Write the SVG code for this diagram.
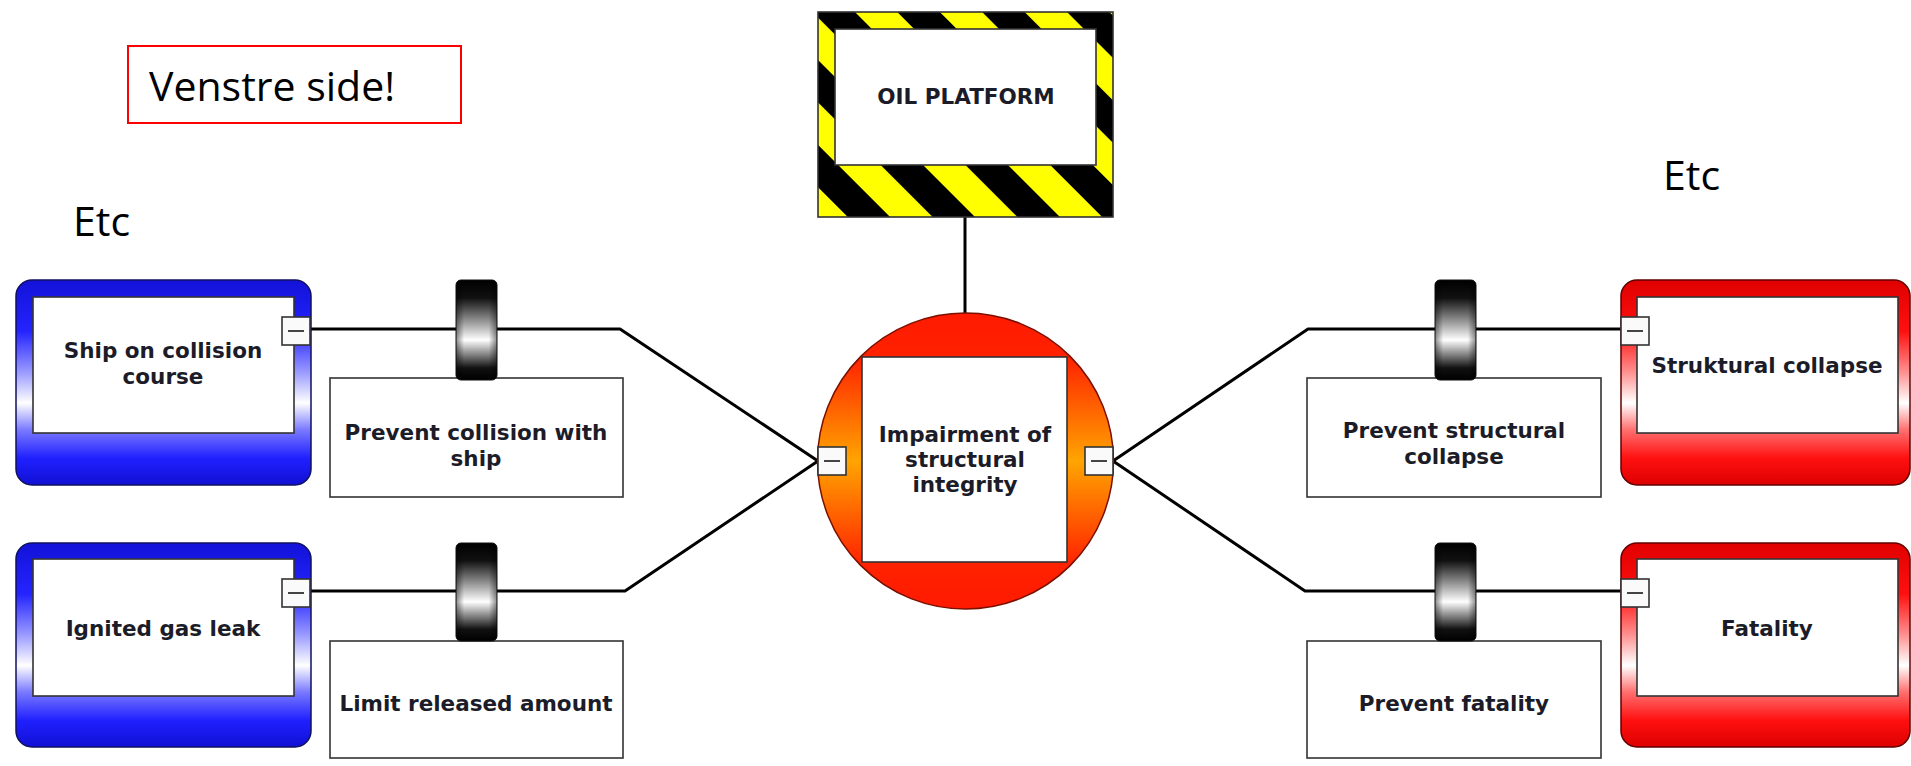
<svg xmlns="http://www.w3.org/2000/svg" width="1911" height="766" viewBox="0 0 1911 766">
<defs>
<style>
.t{font-family:"DejaVu Sans",Verdana,sans-serif;font-weight:bold;font-size:21.5px;fill:#1c1c28;text-anchor:middle}
.c{font-family:"Open Sans","Noto Sans",sans-serif;font-size:41px;fill:#000}
.box{fill:#fff;stroke:#333;stroke-width:1.6}
.mb{fill:#fafafa;stroke:#333;stroke-width:1.6}
.ms{stroke:#444;stroke-width:2}
.ln{fill:none;stroke:#000;stroke-width:3;stroke-linejoin:round}
</style>
<linearGradient id="gBlue" x1="0" y1="0" x2="0" y2="1">
<stop offset="0" stop-color="#1212d8"/>
<stop offset="0.25" stop-color="#2424ff"/>
<stop offset="0.45" stop-color="#9a9aff"/>
<stop offset="0.6" stop-color="#ffffff"/>
<stop offset="0.73" stop-color="#7a7aff"/>
<stop offset="0.87" stop-color="#2020ff"/>
<stop offset="1" stop-color="#1010d4"/>
</linearGradient>
<linearGradient id="gRed" x1="0" y1="0" x2="0" y2="1">
<stop offset="0" stop-color="#e00000"/>
<stop offset="0.25" stop-color="#ff1010"/>
<stop offset="0.45" stop-color="#ff9090"/>
<stop offset="0.6" stop-color="#ffffff"/>
<stop offset="0.73" stop-color="#ff7070"/>
<stop offset="0.87" stop-color="#ff1010"/>
<stop offset="1" stop-color="#dd0000"/>
</linearGradient>
<linearGradient id="gCirc" x1="0" y1="0" x2="0" y2="1">
<stop offset="0" stop-color="#ff1a00"/>
<stop offset="0.15" stop-color="#ff2200"/>
<stop offset="0.5" stop-color="#ffa500"/>
<stop offset="0.85" stop-color="#ff2200"/>
<stop offset="1" stop-color="#ff1a00"/>
</linearGradient>
<linearGradient id="gBarV" x1="0" y1="0" x2="0" y2="1">
<stop offset="0" stop-color="#000"/>
<stop offset="0.18" stop-color="#111"/>
<stop offset="0.6" stop-color="#ffffff"/>
<stop offset="0.88" stop-color="#111"/>
<stop offset="1" stop-color="#000"/>
</linearGradient>
<linearGradient id="gBarH" x1="0" y1="0" x2="1" y2="0">
<stop offset="0" stop-color="#000" stop-opacity="0.45"/>
<stop offset="0.2" stop-color="#000" stop-opacity="0"/>
<stop offset="0.8" stop-color="#000" stop-opacity="0"/>
<stop offset="1" stop-color="#000" stop-opacity="0.45"/>
</linearGradient>
<pattern id="haz" patternUnits="userSpaceOnUse" x="26" y="0" width="60" height="60" patternTransform="rotate(-45)">
<rect width="60" height="60" fill="#ffff00"/>
<rect width="30" height="60" fill="#000"/>
</pattern>
<g id="barrier">
<rect x="0" y="0" width="41" height="100" rx="5" fill="url(#gBarV)" stroke="#111" stroke-width="1"/>
<rect x="0" y="0" width="41" height="100" rx="5" fill="url(#gBarH)"/>
</g>
</defs>
<rect width="1911" height="766" fill="#fff"/>

<g id="connectors">
<path class="ln" d="M309 329 H620 L818 461"/>
<path class="ln" d="M309 591 H625 L818 461"/>
<path class="ln" d="M1113 461 L1308 329 H1621"/>
<path class="ln" d="M1113 461 L1305 591 H1621"/>
<path class="ln" d="M965 217 V313"/>
</g>

<g id="note-venstre">
<rect x="128" y="46" width="333" height="77" fill="#fff" stroke="#ff0000" stroke-width="2"/>
<text class="c" x="149" y="101">Venstre side!</text>
</g>
<g id="etc-left"><text class="c" x="73" y="236">Etc</text></g>
<g id="etc-right"><text class="c" x="1663" y="190">Etc</text></g>

<g id="hazard-oil-platform">
<rect x="818" y="12" width="295" height="205" fill="url(#haz)" stroke="#333" stroke-width="1.6"/>
<rect class="box" x="835" y="29" width="261" height="136"/>
<text class="t" x="966" y="104">OIL PLATFORM</text>
</g>

<g id="top-event">
<circle cx="965.5" cy="461" r="148" fill="url(#gCirc)" stroke="#7a1000" stroke-width="1.5"/>
<rect class="box" x="862" y="357" width="205" height="205"/>
<text class="t" x="965" y="442">Impairment of</text>
<text class="t" x="965" y="467">structural</text>
<text class="t" x="965" y="492">integrity</text>
<rect class="mb" x="818" y="447" width="28" height="28"/>
<line class="ms" x1="824" y1="461" x2="840" y2="461"/>
<rect class="mb" x="1085" y="447" width="28" height="28"/>
<line class="ms" x1="1091" y1="461" x2="1107" y2="461"/>
</g>

<g id="threat-ship">
<rect x="16" y="280" width="295" height="205" rx="16" fill="url(#gBlue)" stroke="#101060" stroke-width="1.5"/>
<rect class="box" x="33" y="297" width="261" height="136"/>
<text class="t" x="163" y="358">Ship on collision</text>
<text class="t" x="163" y="384">course</text>
<rect class="mb" x="282" y="317" width="28" height="28"/>
<line class="ms" x1="288" y1="331" x2="304" y2="331"/>
</g>

<g id="threat-gas">
<rect x="16" y="543" width="295" height="204" rx="16" fill="url(#gBlue)" stroke="#101060" stroke-width="1.5"/>
<rect class="box" x="33" y="559" width="261" height="137"/>
<text class="t" x="163" y="636">Ignited gas leak</text>
<rect class="mb" x="282" y="579" width="28" height="28"/>
<line class="ms" x1="288" y1="593" x2="304" y2="593"/>
</g>

<g id="barrier-prevent-collision">
<rect class="box" x="330" y="378" width="293" height="119"/>
<use href="#barrier" x="456" y="280"/>
<text class="t" x="476" y="440">Prevent collision with</text>
<text class="t" x="476" y="466">ship</text>
</g>

<g id="barrier-limit-release">
<rect class="box" x="330" y="641" width="293" height="117"/>
<use href="#barrier" x="456" y="543" transform="translate(0,10.86) scale(1,0.98)"/>
<text class="t" x="476" y="711">Limit released amount</text>
</g>

<g id="barrier-prevent-structural">
<rect class="box" x="1307" y="378" width="294" height="119"/>
<use href="#barrier" x="1435" y="280"/>
<text class="t" x="1454" y="438">Prevent structural</text>
<text class="t" x="1454" y="464">collapse</text>
</g>

<g id="barrier-prevent-fatality">
<rect class="box" x="1307" y="641" width="294" height="117"/>
<use href="#barrier" x="1435" y="543" transform="translate(0,10.86) scale(1,0.98)"/>
<text class="t" x="1454" y="711">Prevent fatality</text>
</g>

<g id="consequence-collapse">
<rect x="1621" y="280" width="289" height="205" rx="16" fill="url(#gRed)" stroke="#600000" stroke-width="1.5"/>
<rect class="box" x="1637" y="297" width="261" height="136"/>
<text class="t" x="1767" y="373">Struktural collapse</text>
<rect class="mb" x="1621" y="317" width="28" height="28"/>
<line class="ms" x1="1627" y1="331" x2="1643" y2="331"/>
</g>

<g id="consequence-fatality">
<rect x="1621" y="543" width="289" height="204" rx="16" fill="url(#gRed)" stroke="#600000" stroke-width="1.5"/>
<rect class="box" x="1637" y="559" width="261" height="137"/>
<text class="t" x="1767" y="636">Fatality</text>
<rect class="mb" x="1621" y="579" width="28" height="28"/>
<line class="ms" x1="1627" y1="593" x2="1643" y2="593"/>
</g>
</svg>
